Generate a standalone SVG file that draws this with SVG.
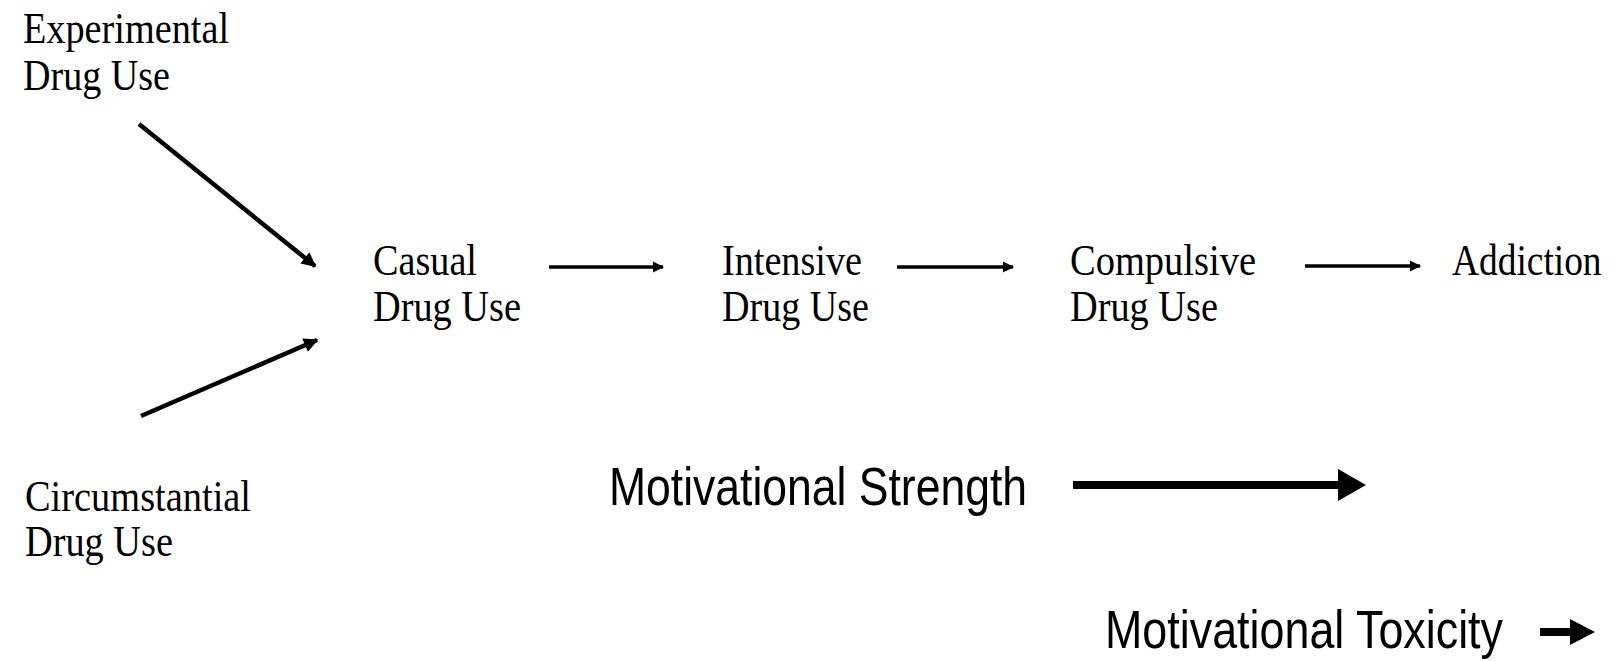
<svg xmlns="http://www.w3.org/2000/svg" width="1617" height="661" viewBox="0 0 1617 661">
<defs>
<style>
.s{font-family:"Liberation Serif","Times New Roman",serif;font-size:44px;fill:#000}
.h{font-family:"Liberation Sans",Arial,sans-serif;font-size:54px;fill:#000}
.c{stroke:#000;fill:none}
</style>
<marker id="ah" viewBox="0 0 10 10" refX="9" refY="5" markerWidth="3.6" markerHeight="3.2" orient="auto" markerUnits="strokeWidth">
<path d="M0,0 L10,5 L0,10 z" fill="#000"/>
</marker>
</defs>
<rect width="1617" height="661" fill="#fff"/>
<g id="experimental">
<text class="s" x="23" y="43" textLength="206" lengthAdjust="spacingAndGlyphs">Experimental</text>
<text class="s" x="23" y="90" textLength="147" lengthAdjust="spacingAndGlyphs">Drug Use</text>
</g>
<g id="circumstantial">
<text class="s" x="25" y="511" textLength="226" lengthAdjust="spacingAndGlyphs">Circumstantial</text>
<text class="s" x="25" y="556" textLength="148" lengthAdjust="spacingAndGlyphs">Drug Use</text>
</g>
<g id="casual">
<text class="s" x="373" y="275" textLength="104" lengthAdjust="spacingAndGlyphs">Casual</text>
<text class="s" x="373" y="321" textLength="148" lengthAdjust="spacingAndGlyphs">Drug Use</text>
</g>
<g id="intensive">
<text class="s" x="722" y="275" textLength="140" lengthAdjust="spacingAndGlyphs">Intensive</text>
<text class="s" x="722" y="321" textLength="147" lengthAdjust="spacingAndGlyphs">Drug Use</text>
</g>
<g id="compulsive">
<text class="s" x="1070" y="275" textLength="186" lengthAdjust="spacingAndGlyphs">Compulsive</text>
<text class="s" x="1070" y="321" textLength="148" lengthAdjust="spacingAndGlyphs">Drug Use</text>
</g>
<g id="addiction">
<text class="s" transform="translate(1452,275) scale(0.85,1)" x="0" y="0">Addiction</text>
</g>
<g id="strength">
<text class="h" x="609" y="505" textLength="418" lengthAdjust="spacingAndGlyphs">Motivational Strength</text>
</g>
<g id="toxicity">
<text class="h" x="1105" y="648" textLength="398" lengthAdjust="spacingAndGlyphs">Motivational Toxicity</text>
</g>
<g id="connectors">
<line class="c" x1="139" y1="124" x2="315" y2="266" stroke-width="4.5" marker-end="url(#ah)"/>
<line class="c" x1="141" y1="416" x2="317" y2="340" stroke-width="4.5" marker-end="url(#ah)"/>
<line class="c" x1="549" y1="267" x2="663" y2="267" stroke-width="3.5" marker-end="url(#ah)"/>
<line class="c" x1="897" y1="267" x2="1013" y2="267" stroke-width="3.5" marker-end="url(#ah)"/>
<line class="c" x1="1305" y1="266" x2="1420" y2="266" stroke-width="3.5" marker-end="url(#ah)"/>
<line class="c" x1="1073" y1="485" x2="1345" y2="485" stroke-width="8"/>
<polygon points="1338,469 1366,485 1338,501" fill="#000"/>
<line class="c" x1="1540" y1="632" x2="1575" y2="632" stroke-width="8"/>
<polygon points="1570,619 1595,632 1570,645" fill="#000"/>
</g>
</svg>
